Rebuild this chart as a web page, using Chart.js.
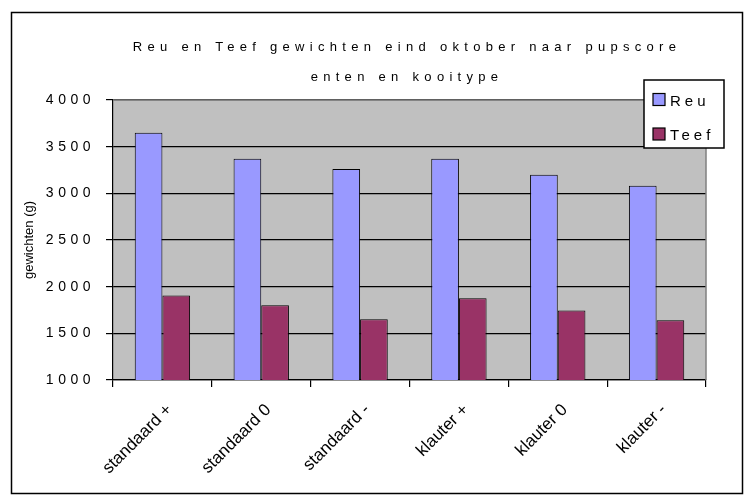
<!DOCTYPE html>
<html>
<head>
<meta charset="utf-8">
<script src="https://cdn.jsdelivr.net/npm/chart.js@4.4.1/dist/chart.umd.min.js"></script>
<style>
  html, body { margin: 0; padding: 0; background: #fff; }
</style>
</head>
<body>
<canvas id="gewichtChart" width="747" height="501"></canvas>
<script>
const categories = ['standaard +', 'standaard 0', 'standaard -', 'klauter +', 'klauter 0', 'klauter -'];
const reuValues = [3650, 3370, 3260, 3370, 3200, 3080];
const teefValues = [1905, 1800, 1650, 1875, 1745, 1640];
const titleLines = ['Reu en Teef gewichten eind oktober naar pupscore', 'enten en kooitype'];
const yTitle = 'gewichten (g)';

const FONT = '"Liberation Sans", Arial, sans-serif';

// grey plot area, frame, title and the legend that sits over the plot
const decor = {
    id: 'decor',
    beforeDraw(chart) {
        const { ctx, chartArea: a } = chart;
        ctx.save();
        ctx.fillStyle = '#c0c0c0';
        ctx.fillRect(a.left, a.top, a.right - a.left, a.bottom - a.top);
        ctx.restore();
    },
    afterDraw(chart) {
        const { ctx, chartArea: a } = chart;
        ctx.save();
        ctx.strokeStyle = '#808080';
        ctx.lineWidth = 1.5;
        ctx.beginPath();
        ctx.moveTo(a.left, a.top);
        ctx.lineTo(a.right, a.top);
        ctx.lineTo(a.right, a.bottom);
        ctx.stroke();

        ctx.strokeStyle = '#000';
        ctx.lineWidth = 1.5;
        ctx.strokeRect(11.5, 12.5, 731, 481);

        ctx.fillStyle = '#000';
        ctx.font = '13px ' + FONT;
        ctx.letterSpacing = '5.3px';
        ctx.textAlign = 'center';
        ctx.textBaseline = 'middle';
        ctx.fillText(titleLines[0], 407, 47);
        ctx.fillText(titleLines[1], 407, 77);

        // legend
        ctx.fillStyle = '#fff';
        ctx.fillRect(644, 80, 80, 68);
        ctx.strokeStyle = '#000';
        ctx.lineWidth = 1.5;
        ctx.strokeRect(644, 80, 80, 68);
        ctx.font = '15px ' + FONT;
        ctx.letterSpacing = '4px';
        ctx.textAlign = 'left';
        ctx.textBaseline = 'alphabetic';
        chart.data.datasets.forEach((ds, i) => {
            const cy = 99.5 + i * 34.5;
            ctx.fillStyle = ds.backgroundColor;
            ctx.fillRect(653, cy - 6, 12, 12);
            ctx.lineWidth = 1.2;
            ctx.strokeRect(653, cy - 6, 12, 12);
            ctx.fillStyle = '#000';
            ctx.fillText(ds.label, 670, cy + 6);
        });
        ctx.restore();
    }
};

// spaced digits on the value axis
const spacedTicks = {
    id: 'spacedTicks',
    afterLayout(chart) {
        const s = chart.scales.y;
        if (s && !s._spaced) {
            const orig = s.drawLabels.bind(s);
            s.drawLabels = function (area) {
                this.ctx.save();
                this.ctx.letterSpacing = '4.5px';
                orig(area);
                this.ctx.restore();
            };
            s._spaced = true;
        }
    }
};

new Chart(document.getElementById('gewichtChart'), {
    type: 'bar',
    data: {
        labels: categories,
        datasets: [{
            label: 'Reu',
            data: reuValues,
            backgroundColor: '#9999ff',
            borderColor: '#000',
            borderWidth: 1
        }, {
            label: 'Teef',
            data: teefValues,
            backgroundColor: '#993366',
            borderColor: '#000',
            borderWidth: 1
        }]
    },
    options: {
        responsive: false,
        animation: false,
        layout: { padding: { top: 100, right: 41, left: 0, bottom: 0 } },
        datasets: { bar: { categoryPercentage: 0.56, barPercentage: 1 } },
        plugins: {
            legend: { display: false },
            title: { display: false },
            tooltip: { enabled: false }
        },
        scales: {
            x: {
                grid: { drawOnChartArea: false, tickLength: 7, color: '#000', lineWidth: 1.2 },
                border: { color: '#000', width: 1.2 },
                ticks: {
                    color: '#000',
                    font: { family: FONT, size: 17 },
                    maxRotation: 45,
                    minRotation: 45,
                    autoSkip: false,
                    padding: 13,
                    labelOffset: 7
                },
                afterFit(scale) { scale.height = 121; }
            },
            y: {
                min: 1000,
                max: 4000,
                ticks: {
                    stepSize: 500,
                    color: '#000',
                    font: { family: FONT, size: 14 },
                    padding: 11,
                    callback: v => String(v)
                },
                grid: { color: '#000', tickLength: 7, lineWidth: 1.2 },
                border: { color: '#000', width: 1.2 },
                title: {
                    display: true,
                    text: yTitle,
                    color: '#000',
                    font: { family: FONT, size: 13 },
                    padding: { top: 22, bottom: 0 }
                },
                afterFit(scale) { scale.width = 113; }
            }
        }
    },
    plugins: [decor, spacedTicks]
});
</script>
</body>
</html>
